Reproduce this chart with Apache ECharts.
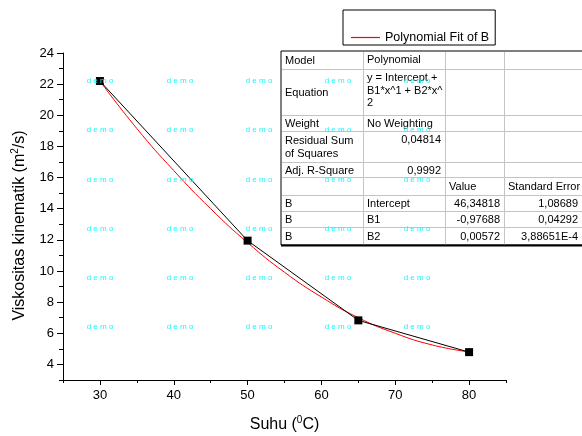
<!DOCTYPE html>
<html>
<head>
<meta charset="utf-8">
<script src="https://cdn.jsdelivr.net/npm/echarts@6/dist/echarts.min.js"></script>
<style>
  html, body { margin: 0; padding: 0; background: #fff; }
  #chart { width: 582px; height: 436px; }
</style>
</head>
<body>
<div id="chart"></div>
<script>
// measured points (black squares)
const suhu = [30, 50, 65, 80]
const viskositas = [22.2, 11.95, 6.83, 4.79]

// red fit curve
const fitSuhu = [30, 35, 40, 45, 50, 55, 60, 65, 70, 75, 80]
const fitViskositas = [22.2, 19.15, 16.45, 14.0, 11.82, 9.92, 8.33, 7.0, 6.0, 5.25, 4.8]

// tick labels
const xMajor = [30, 40, 50, 60, 70, 80]
const xMinor = [25, 35, 45, 55, 65, 75, 85]
const yMajor = [4, 6, 8, 10, 12, 14, 16, 18, 20, 22, 24]
const yMinor = [3, 5, 7, 9, 11, 13, 15, 17, 19, 21, 23]

// fit result table (one array per column)
const tabCol1 = ["Model", "Equation", "Weight", "Residual Sum\nof Squares", "Adj. R-Square", "", "B", "B", "B"]
const tabCol2 = ["Polynomial", "y = Intercept +\nB1*x^1 + B2*x^\n2", "No Weighting", "0,04814", "0,9992", "", "Intercept", "B1", "B2"]
const tabCol3 = ["", "", "", "", "", "Value", "46,34818", "-0,97688", "0,00572"]
const tabCol4 = ["", "", "", "", "", "Standard Error", "1,08689", "0,04292", "3,88651E-4"]

const FONT = "Liberation Sans, Arial, sans-serif"

// table geometry
const colX = [281, 363, 445, 504, 620]
const rowY = [51, 69, 115, 131, 162, 177, 195, 211, 227, 245]

const buildTable = () => {
  const els = []
  const cols = [tabCol1, tabCol2, tabCol3, tabCol4]
  els.push({
    type: "rect", z: 10,
    shape: { x: colX[0], y: rowY[0], width: colX[4] - colX[0], height: rowY[9] - rowY[0] },
    style: { fill: "#fff", stroke: "#000", lineWidth: 1 },
  })
  // inner grid lines
  for (let i = 1; i < rowY.length - 1; i++) {
    els.push({
      type: "line", z: 11,
      shape: { x1: colX[0] + 1, y1: rowY[i] + 0.5, x2: colX[4], y2: rowY[i] + 0.5 },
      style: { stroke: "#c4c4c4", lineWidth: 1 },
    })
  }
  for (let j = 1; j < colX.length - 1; j++) {
    els.push({
      type: "line", z: 11,
      shape: { x1: colX[j] + 0.5, y1: rowY[0] + 1, x2: colX[j] + 0.5, y2: rowY[9] },
      style: { stroke: "#c4c4c4", lineWidth: 1 },
    })
  }
  // heavier bottom edge
  els.push({
    type: "line", z: 12,
    shape: { x1: colX[0], y1: rowY[9] + 0.5, x2: colX[4], y2: rowY[9] + 0.5 },
    style: { stroke: "#000", lineWidth: 2 },
  })
  cols.forEach((col, j) => {
    col.forEach((txt, i) => {
      if (!txt) return
      const top = rowY[i], bot = rowY[i + 1]
      const isNum = /^-?[0-9]/.test(txt)
      let x = colX[j] + 4
      let align = "left"
      let y = (top + bot) / 2 + 1
      let va = "middle"
      if (isNum) {
        x = Math.min(colX[j + 1], 582) - 4
        align = "right"
      }
      if (j === 1 && i < 5) {
        y = top + 3
        va = "top"
      }
      els.push({
        type: "text", z: 13,
        style: {
          x: x, y: y, text: txt, align: align, verticalAlign: va,
          font: "11px " + FONT, fill: "#000", lineHeight: 12.5,
        },
      })
    })
  })
  return els
}

// "demo" watermark grid
const buildWatermarks = () => {
  const els = []
  const cx = [100, 180, 259, 338, 417]
  const cy = [80.5, 130, 179.5, 228.5, 277.5, 326.5]
  cy.forEach((y) => {
    cx.forEach((x) => {
      els.push({
        type: "text", z: 20,
        style: {
          x: x, y: y, text: "d e m o", align: "center", verticalAlign: "middle",
          font: "8px " + FONT, fill: "#22f4fa",
        },
      })
    })
  })
  return els
}

const axisBlack = { color: "#000", width: 1 }

const option = {
  animation: false,
  backgroundColor: "#fff",
  grid: { left: 63, right: 76, top: 53, bottom: 56, outerBoundsMode: "none" },
  legend: {
    data: ["Polynomial Fit of B"],
    left: 343,
    top: 10,
    orient: "horizontal",
    icon: "rect",
    itemWidth: 29,
    itemHeight: 1.2,
    itemStyle: { color: "#ff0000", borderWidth: 0 },
    lineStyle: { color: "#ff0000", width: 1 },
    padding: [21, 6, 1, 8],
    borderColor: "#000",
    borderWidth: 1,
    backgroundColor: "#fff",
    textStyle: { fontFamily: FONT, fontSize: 12.5, color: "#000" },
  },
  xAxis: [
    {
      type: "value",
      min: 25,
      max: 85,
      axisLine: { show: true, lineStyle: axisBlack },
      axisTick: { show: true, customValues: xMajor, length: 5, lineStyle: axisBlack },
      axisLabel: { customValues: xMajor, margin: 9, fontFamily: FONT, fontSize: 13, color: "#000" },
      splitLine: { show: false },
      name: "{a|Suhu (}{s|0}{a|C)}",
      nameLocation: "middle",
      nameGap: 35,
      nameTextStyle: {
        rich: {
          a: { fontFamily: FONT, fontSize: 16, color: "#000", lineHeight: 20 },
          s: { fontFamily: FONT, fontSize: 10, color: "#000", lineHeight: 12, verticalAlign: "top" },
        },
      },
    },
    {
      type: "value",
      min: 25,
      max: 85,
      position: "bottom",
      axisLine: { show: false },
      axisTick: { show: true, customValues: xMinor, length: 3, lineStyle: axisBlack },
      axisLabel: { show: false },
      splitLine: { show: false },
    },
  ],
  yAxis: [
    {
      type: "value",
      min: 3,
      max: 24,
      axisLine: { show: true, lineStyle: axisBlack },
      axisTick: { show: true, customValues: yMajor, length: 6, lineStyle: axisBlack },
      axisLabel: { customValues: yMajor, margin: 9, fontFamily: FONT, fontSize: 13, color: "#000" },
      splitLine: { show: false },
      name: "{a|Viskositas kinematik (m}{s|2}{a|/s)}",
      nameLocation: "middle",
      nameGap: 33,
      nameTextStyle: {
        padding: [0, 18, 0, 0],
        rich: {
          a: { fontFamily: FONT, fontSize: 16, color: "#000", lineHeight: 20 },
          s: { fontFamily: FONT, fontSize: 10, color: "#000", lineHeight: 12, verticalAlign: "top" },
        },
      },
    },
    {
      type: "value",
      min: 3,
      max: 24,
      position: "left",
      axisLine: { show: false },
      axisTick: { show: true, customValues: yMinor, length: 4, lineStyle: axisBlack },
      axisLabel: { show: false },
      splitLine: { show: false },
    },
  ],
  series: [
    {
      name: "Polynomial Fit of B",
      type: "line",
      smooth: true,
      symbol: "none",
      color: "#ff0000",
      data: fitSuhu.map((x, i) => [x, fitViskositas[i]]),
      lineStyle: { color: "#ff0000", width: 1 },
      itemStyle: { color: "#ff0000" },
      z: 2,
    },
    {
      name: "B",
      type: "line",
      symbol: "rect",
      symbolSize: 8,
      color: "#000",
      data: suhu.map((x, i) => [x, viskositas[i]]),
      lineStyle: { color: "#000", width: 1 },
      itemStyle: { color: "#000" },
      z: 3,
    },
  ],
  graphic: [...buildTable(), ...buildWatermarks()],
}

const myChart = echarts.init(document.getElementById("chart"))
myChart.setOption(option)
</script>
</body>
</html>
